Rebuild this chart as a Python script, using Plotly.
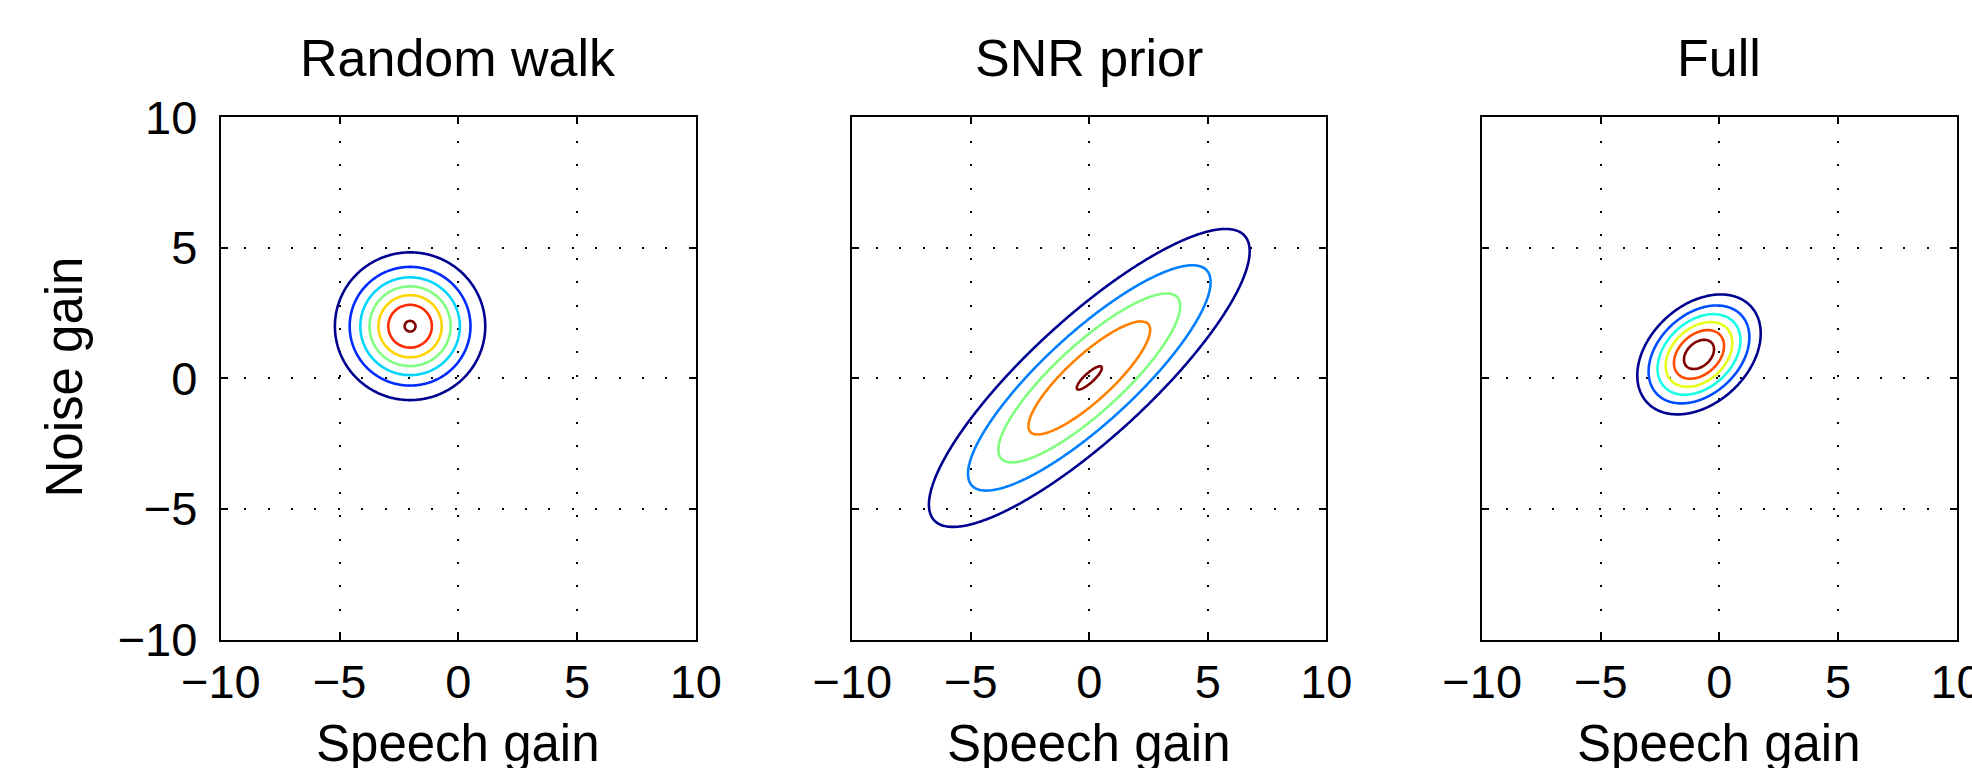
import numpy as np
import plotly.graph_objects as go

# ---- data ----
PANEL_TITLES = ["Random walk", "SNR prior", "Full"]
X_LABEL = "Speech gain"
Y_LABEL = "Noise gain"
MEAN_SPEECH = [-2.03, 0.0, -0.86]      # Gaussian centre, x
MEAN_NOISE = [2.00, 0.02, 0.92]        # Gaussian centre, y
STD_SPEECH = [1.60, 3.76, 1.45]        # std along speech gain
STD_NOISE = [1.43, 3.17, 1.28]         # std along noise gain
CORRELATION = [0.0, 0.85, 0.35]
LEVEL_FIRST = [0.1414, 0.198, 0.200]   # lowest contour (relative density)
LEVEL_STEP = [0.1414, 0.198, 0.1418]   # spacing of contour levels
LEVEL_COUNT = [7, 5, 6]
TICK_VALUES = [-10, -5, 0, 5, 10]
AXIS_RANGE = [-10, 10]

JET = [[0.0, "rgb(0,0,143)"], [0.125, "rgb(0,0,255)"], [0.375, "rgb(0,255,255)"],
       [0.625, "rgb(255,255,0)"], [0.875, "rgb(255,0,0)"], [1.0, "rgb(128,0,0)"]]

FONT = "Liberation Sans, Arial, Helvetica, sans-serif"
W, H = 1972, 768
X_DOMAINS = [[220.8 / W, 695.8 / W], [852.3 / W, 1326.3 / W], [1482.2 / W, 1956.6 / W]]
Y_DOMAIN = [1 - 639.6 / H, 1 - 117.3 / H]

grid = np.linspace(AXIS_RANGE[0], AXIS_RANGE[1], 401)
GX, GY = np.meshgrid(grid, grid)

fig = go.Figure()
for i in range(3):
    dx = (GX - MEAN_SPEECH[i]) / STD_SPEECH[i]
    dy = (GY - MEAN_NOISE[i]) / STD_NOISE[i]
    r = CORRELATION[i]
    q = (dx ** 2 - 2 * r * dx * dy + dy ** 2) / (1 - r ** 2)
    z = np.exp(-0.5 * q)
    start = LEVEL_FIRST[i]
    end = LEVEL_FIRST[i] + LEVEL_STEP[i] * (LEVEL_COUNT[i] - 1)
    fig.add_trace(go.Contour(
        x=grid, y=grid, z=z,
        xaxis=f"x{i + 1}", yaxis=f"y{i + 1}",
        autocontour=False,
        contours=dict(start=start, end=end + 1e-9, size=LEVEL_STEP[i], coloring="lines"),
        colorscale=JET, showscale=False,
        line=dict(width=2.6, smoothing=1),
        hoverinfo="skip",
    ))

axis_common = dict(
    range=AXIS_RANGE, tickvals=TICK_VALUES, ticks="inside", ticklen=7, tickwidth=2,
    tickcolor="black", showline=True, linewidth=2, linecolor="black", mirror="ticks",
    showgrid=True, gridcolor="black", gridwidth=2, griddash="2px,21.4px",
    zeroline=False, automargin=False,
    tickfont=dict(family=FONT, size=47, color="black"),
)

layout = dict(
    template="none",
    width=W, height=H, autosize=False,
    margin=dict(l=0, r=0, t=0, b=0, pad=0),
    paper_bgcolor="white", plot_bgcolor="white",
    showlegend=False,
)
annotations = []
for i in range(3):
    xk = "xaxis" if i == 0 else f"xaxis{i + 1}"
    yk = "yaxis" if i == 0 else f"yaxis{i + 1}"
    layout[xk] = dict(axis_common, domain=X_DOMAINS[i], anchor=f"y{i + 1}",
                      ticklabelstandoff=0, ticklabeloverflow="allow")
    layout[yk] = dict(axis_common, domain=Y_DOMAIN, anchor=f"x{i + 1}",
                      showticklabels=(i == 0), ticklabelstandoff=12)
    cx = (X_DOMAINS[i][0] + X_DOMAINS[i][1]) / 2
    annotations.append(dict(text=PANEL_TITLES[i], x=cx, y=1 - 58.4 / H, xref="paper", yref="paper",
                            xanchor="center", yanchor="middle", showarrow=False,
                            font=dict(family=FONT, size=52, color="black")))
    annotations.append(dict(text=X_LABEL, x=cx, y=1 - 743 / H, xref="paper", yref="paper",
                            xanchor="center", yanchor="middle", showarrow=False,
                            font=dict(family=FONT, size=51, color="black")))
annotations.append(dict(text=Y_LABEL, x=64 / W, y=1 - 377.5 / H, xref="paper", yref="paper",
                        xanchor="center", yanchor="middle", showarrow=False, textangle=-90,
                        font=dict(family=FONT, size=51, color="black")))
layout["annotations"] = annotations

fig.update_layout(**layout)
fig.write_html("out.html")
